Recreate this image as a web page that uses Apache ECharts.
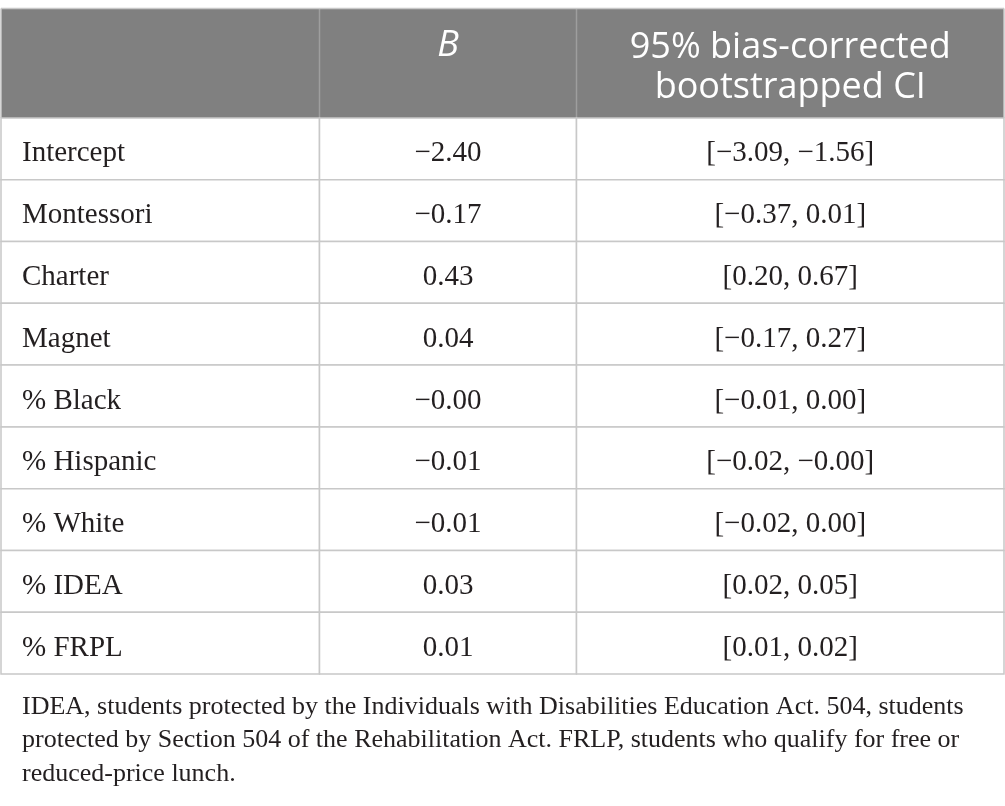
<!DOCTYPE html>
<html>
<head>
<meta charset="utf-8">
<script src="https://cdn.jsdelivr.net/npm/echarts@6/dist/echarts.min.js"></script>
<style>
html,body{margin:0;padding:0;background:#fff;}
#main{width:1005px;height:806px;}
</style>
</head>
<body>
<div id="main"></div>
<script>
// ---- data ----
const headers = ['', 'B', '95% bias-corrected\nbootstrapped CI'];
const variables = ['Intercept', 'Montessori', 'Charter', 'Magnet', '% Black', '% Hispanic', '% White', '% IDEA', '% FRPL'];
const coefB = ['\u22122.40', '\u22120.17', '0.43', '0.04', '\u22120.00', '\u22120.01', '\u22120.01', '0.03', '0.01'];
const ciLow = ['\u22123.09', '\u22120.37', '0.20', '\u22120.17', '\u22120.01', '\u22120.02', '\u22120.02', '0.02', '0.01'];
const ciHigh = ['\u22121.56', '0.01', '0.67', '0.27', '0.00', '\u22120.00', '0.00', '0.05', '0.02'];
const noteLines = [
  'IDEA, students protected by the Individuals with Disabilities Education Act. 504, students',
  'protected by Section 504 of the Rehabilitation Act. FRLP, students who qualify for free or',
  'reduced-price lunch.'
];

// ---- layout / style ----
const colBounds = [0, 318.5, 575.5, 1003];
const SERIF = '"Liberation Serif", "DejaVu Serif", serif';
const SANS = '"Open Sans", "Noto Sans", sans-serif';
const BORDER = '#c8c8c8';
const HEAD_BG = '#808080';
const TEXT = '#231f20';

const chart = echarts.init(document.getElementById('main'));

function bodyRender(params, api) {
  const row = api.value(1);
  const yc = api.coord([0, row])[1];
  const h = api.size([0, 1])[1];
  const xs = colBounds.map(b => api.coord([b, row])[0]);
  const children = [];
  for (let c = 0; c < 3; c++) {
    children.push({
      type: 'rect',
      shape: { x: xs[c], y: yc - h / 2, width: xs[c + 1] - xs[c], height: h },
      style: { fill: '#fff', stroke: BORDER, lineWidth: 1.5 }
    });
  }
  const txt = [variables[row], coefB[row], '[' + ciLow[row] + ', ' + ciHigh[row] + ']'];
  for (let c = 0; c < 3; c++) {
    children.push({
      type: 'text',
      style: {
        text: txt[c],
        x: c === 0 ? xs[0] + 21 : (xs[c] + xs[c + 1]) / 2,
        y: yc + 5,
        align: c === 0 ? 'left' : 'center',
        verticalAlign: 'middle',
        fill: TEXT,
        font: '29px ' + SERIF
      }
    });
  }
  return { type: 'group', children };
}

function headRender(params, api) {
  const yc = api.coord([0, 0])[1];
  const h = api.size([0, 1])[1];
  const xs = colBounds.map(b => api.coord([b, 0])[0]);
  const top = yc - h / 2, bot = yc + h / 2;
  const children = [{
    type: 'rect',
    shape: { x: xs[0], y: top, width: xs[3] - xs[0], height: h },
    style: { fill: HEAD_BG }
  }];
  for (let c = 1; c < 3; c++) {
    children.push({
      type: 'line',
      shape: { x1: xs[c], y1: top, x2: xs[c], y2: bot },
      style: { stroke: '#9e9e9e', lineWidth: 1.5 }
    });
  }
  children.push({
    type: 'line',
    shape: { x1: xs[0], y1: top, x2: xs[3], y2: top },
    style: { stroke: BORDER, lineWidth: 1.5 }
  });
  children.push({
    type: 'line',
    shape: { x1: xs[3], y1: top, x2: xs[3], y2: bot },
    style: { stroke: BORDER, lineWidth: 1.5 }
  });
  children.push({
    type: 'line',
    shape: { x1: xs[0], y1: top, x2: xs[0], y2: bot },
    style: { stroke: BORDER, lineWidth: 1.5 }
  });
  // B column: aligned with first header line
  children.push({
    type: 'text',
    style: {
      text: headers[1],
      x: (xs[1] + xs[2]) / 2,
      y: top + 37.5,
      align: 'center',
      verticalAlign: 'middle',
      fill: '#fff',
      font: 'italic 36px ' + SANS
    }
  });
  children.push({
    type: 'text',
    style: {
      text: headers[2],
      x: (xs[2] + xs[3]) / 2,
      y: yc + 4,
      align: 'center',
      verticalAlign: 'middle',
      fill: '#fff',
      font: '36px ' + SANS,
      lineHeight: 40
    }
  });
  return { type: 'group', children };
}

chart.setOption({
  animation: false,
  backgroundColor: '#fff',
  title: {
    text: noteLines.join('\n'),
    left: 17,
    top: 685,
    textStyle: { fontFamily: SERIF, fontSize: 26, fontWeight: 'normal', color: TEXT, lineHeight: 33.5 }
  },
  grid: [
    { left: 1, top: 8.5, width: 1003, height: 109.5 },
    { left: 1, top: 118, width: 1003, height: 556 }
  ],
  xAxis: [
    { gridIndex: 0, type: 'value', min: 0, max: 1003, show: false },
    { gridIndex: 1, type: 'value', min: 0, max: 1003, show: false }
  ],
  yAxis: [
    { gridIndex: 0, type: 'category', data: ['header'], show: false },
    { gridIndex: 1, type: 'category', data: variables, inverse: true, show: false }
  ],
  series: [
    {
      type: 'custom', xAxisIndex: 0, yAxisIndex: 0,
      data: [[0, 0]], renderItem: headRender, silent: true
    },
    {
      type: 'custom', xAxisIndex: 1, yAxisIndex: 1,
      data: variables.map((v, i) => [0, i]), renderItem: bodyRender, silent: true
    }
  ]
});
</script>
</body>
</html>
